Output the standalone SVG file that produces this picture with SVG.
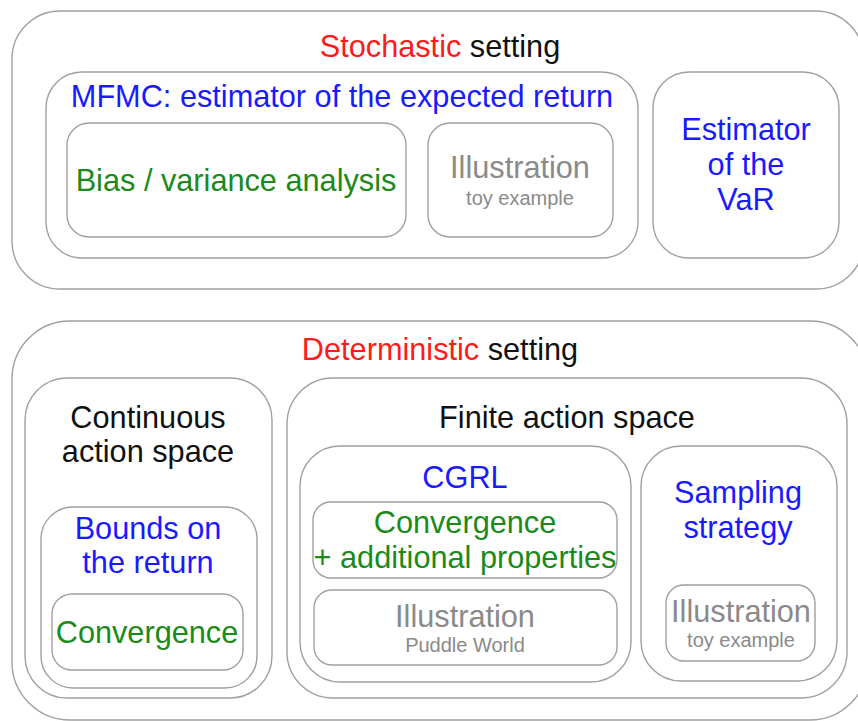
<svg xmlns="http://www.w3.org/2000/svg" width="858" height="721" viewBox="0 0 858 721">
<style>
.box{fill:#fff;stroke:#a0a0a0;stroke-width:1.4}
text{font-family:"Liberation Sans",Arial,sans-serif;text-anchor:middle;font-size:30.7px}
.red{fill:#ff1a1a}.blue{fill:#1a1aff}.green{fill:#1a8a1a}.gray{fill:#8a8a8a}.black{fill:#111}
.small{font-size:20px}
</style>
<rect width="858" height="721" fill="#fff"/>
<g id="stochastic">
<rect class="box" x="12" y="11" width="852" height="278" rx="48"/>
<text x="440" y="57"><tspan class="red">Stochastic</tspan><tspan class="black"> setting</tspan></text>
</g>
<g id="mfmc">
<rect class="box" x="46" y="72" width="592" height="186" rx="36"/>
<text class="blue" x="342" y="107">MFMC: estimator of the expected return</text>
</g>
<g id="bias">
<rect class="box" x="67" y="123" width="339" height="114" rx="22"/>
<text class="green" x="236" y="191">Bias / variance analysis</text>
</g>
<g id="illus1">
<rect class="box" x="428" y="123" width="185" height="114" rx="22"/>
<text class="gray" x="520" y="178">Illustration</text>
<text class="gray small" x="520" y="205">toy example</text>
</g>
<g id="var">
<rect class="box" x="653" y="72" width="186" height="186" rx="36"/>
<text class="blue" x="746" y="140">Estimator</text>
<text class="blue" x="746" y="175">of the</text>
<text class="blue" x="746" y="210">VaR</text>
</g>
<g id="deterministic">
<rect class="box" x="12" y="321" width="856" height="399" rx="58"/>
<text x="440" y="360"><tspan class="red">Deterministic</tspan><tspan class="black"> setting</tspan></text>
</g>
<g id="continuous">
<rect class="box" x="25" y="378" width="247" height="320" rx="42"/>
<text class="black" x="148" y="428">Continuous</text>
<text class="black" x="148" y="462">action space</text>
</g>
<g id="bounds">
<rect class="box" x="41" y="507" width="216" height="181" rx="32"/>
<text class="blue" x="148" y="539">Bounds on</text>
<text class="blue" x="148" y="573">the return</text>
</g>
<g id="convergence1">
<rect class="box" x="52" y="594" width="191" height="76" rx="20"/>
<text class="green" x="147" y="643">Convergence</text>
</g>
<g id="finite">
<rect class="box" x="287" y="378" width="560" height="320" rx="46"/>
<text class="black" x="567" y="428">Finite action space</text>
</g>
<g id="cgrl">
<rect class="box" x="300" y="446" width="331" height="236" rx="40"/>
<text class="blue" x="465" y="488">CGRL</text>
</g>
<g id="convergence2">
<rect class="box" x="313" y="502" width="304" height="76" rx="18"/>
<text class="green" x="465" y="533">Convergence</text>
<text class="green" x="465" y="568">+ additional properties</text>
</g>
<g id="illus2">
<rect class="box" x="314" y="590" width="303" height="75" rx="18"/>
<text class="gray" x="465" y="627">Illustration</text>
<text class="gray small" x="465" y="652">Puddle World</text>
</g>
<g id="sampling">
<rect class="box" x="641" y="446" width="196" height="235" rx="40"/>
<text class="blue" x="738" y="503">Sampling</text>
<text class="blue" x="738" y="538">strategy</text>
</g>
<g id="illus3">
<rect class="box" x="666" y="585" width="149" height="76" rx="18"/>
<text class="gray" x="741" y="622">Illustration</text>
<text class="gray small" x="741" y="647">toy example</text>
</g>
<g id="connectors"></g>
</svg>
